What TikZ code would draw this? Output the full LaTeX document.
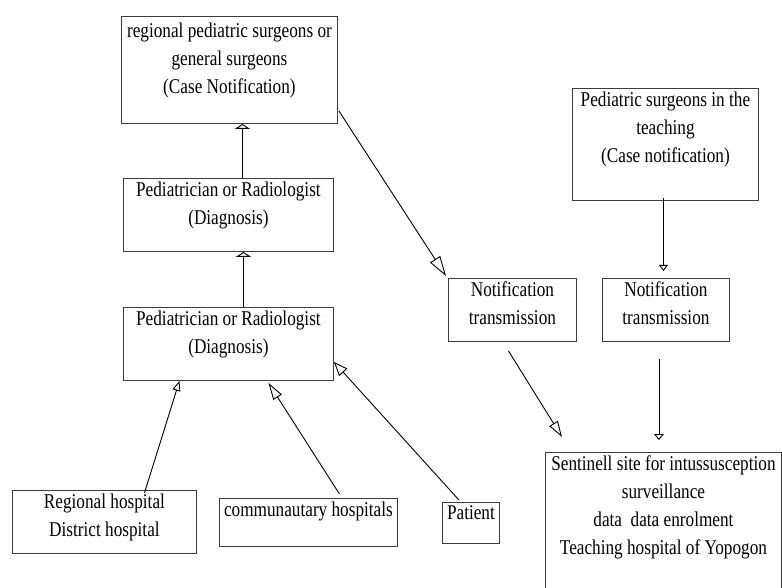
\documentclass[tikz,border=0pt]{standalone}
\usepackage{fontspec}
\setmainfont{Liberation Serif}[FakeStretch=0.82]
\usetikzlibrary{arrows.meta}
\definecolor{boxgray}{RGB}{60,60,60}
\newcommand{\boxtext}[3]{\begin{minipage}[t][#2][t]{#1}\centering #3\end{minipage}}
\tikzset{
  boxnode/.style={draw=boxgray, line width=0.9pt, anchor=north west, inner xsep=0pt, inner ysep=3pt, font=\fontsize{21}{28}\selectfont},
  link/.style={draw=black, line width=0.9pt},
  openhead/.style 2 args={-{Triangle[open, length=#1, width=#2]}}
}
\begin{document}
\begin{tikzpicture}[x=1pt, y=-1pt]
				\clip (0,0) rectangle (782,588);
				\fill[white] (0,0) rectangle (782,588);
				\node[boxnode] (rps) at (121,16) {\boxtext{216pt}{101pt}{\vspace*{3pt}regional pediatric surgeons or\\general surgeons\\(Case Notification)}};
				\node[boxnode] (diagA) at (123,178) {\boxtext{210pt}{67pt}{Pediatrician or Radiologist\\(Diagnosis)}};
				\node[boxnode] (diagB) at (123,307) {\boxtext{210pt}{67pt}{Pediatrician or Radiologist\\(Diagnosis)}};
				\node[boxnode] (regional) at (12,490) {\boxtext{184pt}{57pt}{Regional hospital\\District hospital}};
				\node[boxnode] (commun) at (219,498) {\boxtext{178pt}{42pt}{communautary hospitals}};
				\node[boxnode] (patient) at (442,502) {\boxtext{57pt}{35pt}{Patient}};
				\node[boxnode] (notifL) at (448,278) {\boxtext{128pt}{57pt}{Notification\\transmission}};
				\node[boxnode] (pedsurg) at (572,88) {\boxtext{186pt}{106pt}{Pediatric surgeons in the\\teaching\\(Case notification)}};
				\node[boxnode] (notifR) at (602,278) {\boxtext{127pt}{57pt}{Notification\\transmission}};
				\node[boxnode] (sentinel) at (545,452) {\boxtext{236pt}{160pt}{Sentinell site for intussusception\\surveillance\\data~ data enrolment\\Teaching hospital of Yopogon}};
				\draw[link, openhead={5pt}{15pt}] ([xshift=14pt]diagA.north) -- ([xshift=14pt]diagA.north |- rps.south);
				\draw[link, openhead={5pt}{15pt}] ([xshift=15pt]diagB.north) -- ([xshift=15pt]diagB.north |- diagA.south);
				\draw[link, openhead={10pt}{8pt}] ([shift={(40,3)}]regional.north) -- ([shift={(-49,0)}]diagB.south);
				\draw[link, openhead={17pt}{10pt}] ([shift={(31,-4)}]commun.north) -- ([shift={(40,2)}]diagB.south);
				\draw[link, openhead={14pt}{11pt}] ([shift={(-12,-2)}]patient.north) -- ([shift={(0,18)}]diagB.east);
				\draw[link, openhead={20pt}{12pt}] ([shift={(1,41)}]rps.east) -- ([shift={(-2,-2)}]notifL.north west);
				\draw[link, openhead={16pt}{10pt}] ([shift={(-4,9)}]notifL.south) -- ([shift={(17,-15)}]sentinel.north west);
				\draw[link, openhead={6pt}{9pt}] ([shift={(-2,-3)}]pedsurg.south) -- ([shift={(-2,-7)}]pedsurg.south |- notifR.north);
				\draw[link, openhead={6pt}{10pt}] ([shift={(-7,17)}]notifR.south) -- ([shift={(-7,-12)}]notifR.south |- sentinel.north);
\end{tikzpicture}
\end{document}
